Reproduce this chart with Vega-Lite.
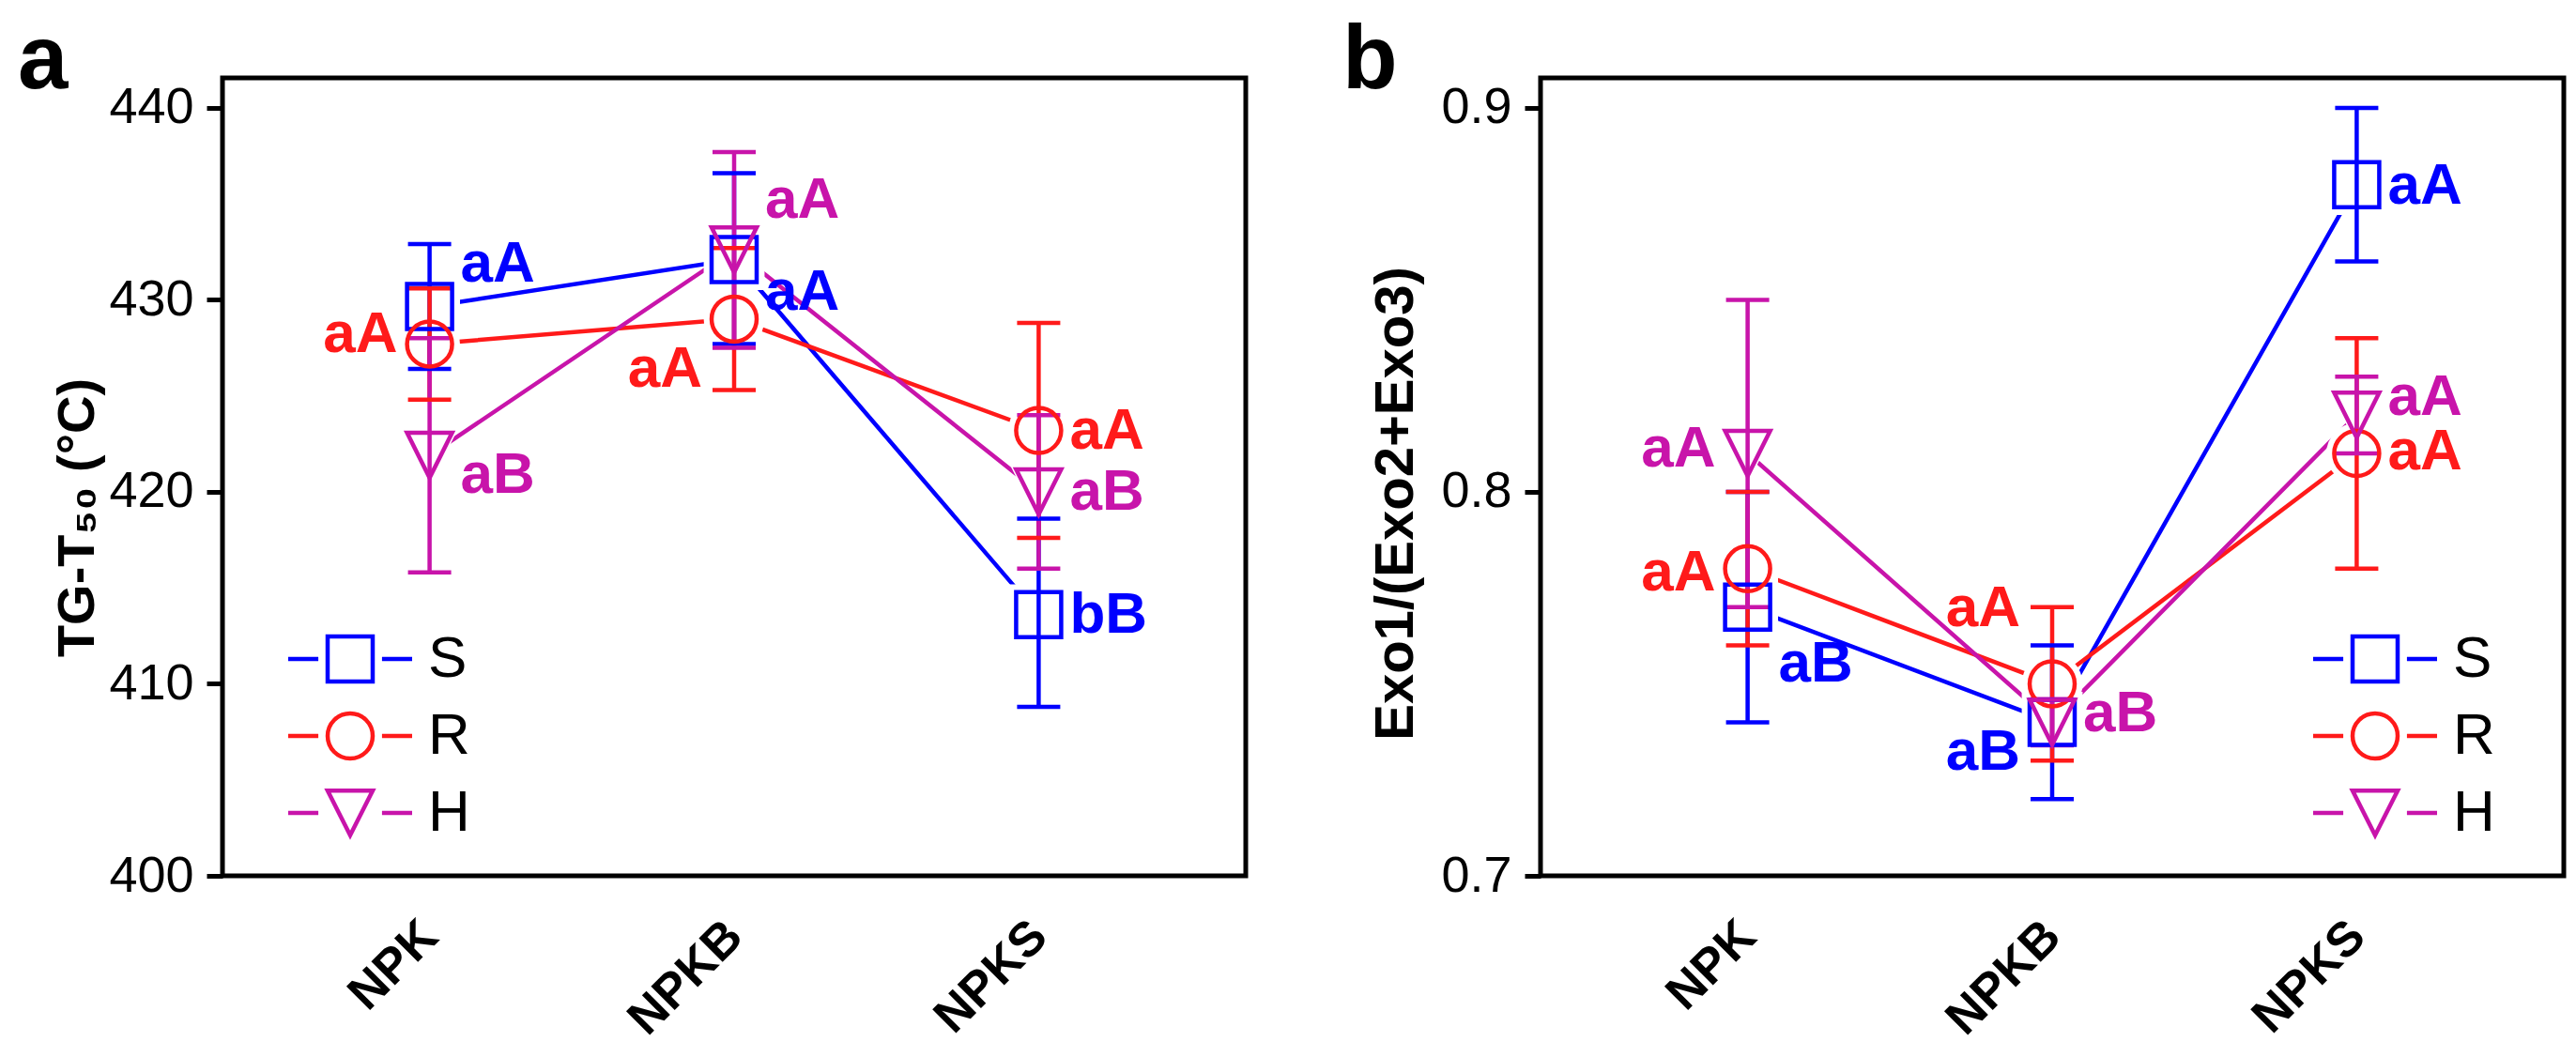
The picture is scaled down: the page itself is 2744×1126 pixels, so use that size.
{
  "$schema": "https://vega.github.io/schema/vega-lite/v6.json",
  "background": "white",
  "padding": {"left": 16, "top": 14, "right": 0, "bottom": 0},
  "spacing": 97,
  "config": {
    "view": {"stroke": "black", "strokeWidth": 5},
    "axis": {"grid": false, "domain": false, "labelFont": "Liberation Sans", "titleFont": "Liberation Sans", "labelColor": "black", "titleColor": "black", "tickColor": "black", "labelOverlap": false, "labelLimit": 400},
    "axisY": {"tickSize": 17, "tickWidth": 5, "labelFontSize": 54, "labelPadding": 14, "titleFontSize": 56, "titleFontWeight": "bold"},
    "axisX": {"ticks": false, "tickSize": 0, "labelAngle": -45, "labelAlign": "right", "labelBaseline": "middle", "labelFontSize": 52, "labelFontWeight": "bold", "labelPadding": 56},
    "legend": {"orient": "none", "title": null, "padding": 0, "labelFont": "Liberation Sans", "labelFontSize": 62, "labelColor": "black", "labelOffset": 52, "symbolSize": 3249, "symbolStrokeWidth": 4.5, "symbolOpacity": 1, "rowPadding": 16, "symbolFillColor": "transparent"}
  },
  "hconcat": [
    {
      "width": 1090,
      "height": 850,
      "title": {"text": "a", "anchor": "start", "frame": "bounds", "dx": -36, "dy": 92, "offset": -15, "baseline": "alphabetic", "fontSize": 96, "fontWeight": "bold", "font": "Liberation Sans", "color": "black"},
      "data": {"values": [
        {"trt": "NPK", "series": "S", "mean": 429.65, "lo": 426.4, "hi": 432.9, "label": "aA", "ly": 431.9, "side": "right"},
        {"trt": "NPKB", "series": "S", "mean": 432.1, "lo": 427.7, "hi": 436.6, "label": "aA", "ly": 430.4, "side": "right"},
        {"trt": "NPKS", "series": "S", "mean": 413.6, "lo": 408.8, "hi": 418.6, "label": "bB", "ly": 413.6, "side": "right"},
        {"trt": "NPK", "series": "R", "mean": 427.7, "lo": 424.8, "hi": 430.6, "label": "aA", "ly": 428.2, "side": "left"},
        {"trt": "NPKB", "series": "R", "mean": 429.0, "lo": 425.3, "hi": 432.7, "label": "aA", "ly": 426.4, "side": "left"},
        {"trt": "NPKS", "series": "R", "mean": 423.2, "lo": 417.6, "hi": 428.8, "label": "aA", "ly": 423.2, "side": "right"},
        {"trt": "NPK", "series": "H", "mean": 421.9, "lo": 415.8, "hi": 428.0, "label": "aB", "ly": 420.9, "side": "right"},
        {"trt": "NPKB", "series": "H", "mean": 432.6, "lo": 427.5, "hi": 437.7, "label": "aA", "ly": 435.2, "side": "right"},
        {"trt": "NPKS", "series": "H", "mean": 420.0, "lo": 416.0, "hi": 424.0, "label": "aB", "ly": 420.0, "side": "right"}
      ]},
      "encoding": {
        "x": {"field": "trt", "type": "nominal", "title": null, "scale": {"type": "point", "domain": ["NPK", "NPKB", "NPKS"], "padding": 0.68}}
      },
      "layer": [
        {
          "mark": {"type": "line", "strokeWidth": 4.5},
          "encoding": {
            "y": {"field": "mean", "type": "quantitative", "title": "TG-T₅₀ (°C)", "scale": {"domain": [400, 441.56], "nice": false, "zero": false}, "axis": {"values": [400, 410, 420, 430, 440], "titlePadding": 4, "titleY": 468}},
            "color": {"field": "series", "type": "nominal", "scale": {"domain": ["S", "R", "H"], "range": ["#0000FF", "#FF1A1A", "#C814AA"]}, "legend": null}
          }
        },
        {
          "mark": {"type": "point", "filled": true, "color": "white", "opacity": 1, "size": 4200},
          "encoding": {
            "y": {"field": "mean", "type": "quantitative", "title": "TG-T₅₀ (°C)", "scale": {"domain": [400, 441.56], "nice": false, "zero": false}},
            "shape": {"field": "series", "type": "nominal", "scale": {"domain": ["S", "R", "H"], "range": ["square", "circle", "M-1,-1H1L0,1Z"]}, "legend": null}
          }
        },
        {
          "mark": {"type": "rule", "strokeWidth": 4.5},
          "encoding": {
            "y": {"field": "lo", "type": "quantitative", "title": "TG-T₅₀ (°C)", "scale": {"domain": [400, 441.56], "nice": false, "zero": false}},
            "y2": {"field": "hi"},
            "color": {"field": "series", "type": "nominal", "scale": {"domain": ["S", "R", "H"], "range": ["#0000FF", "#FF1A1A", "#C814AA"]}, "legend": null}
          }
        },
        {
          "mark": {"type": "tick", "size": 46, "thickness": 4.5, "opacity": 1},
          "encoding": {
            "y": {"field": "lo", "type": "quantitative", "title": "TG-T₅₀ (°C)", "scale": {"domain": [400, 441.56], "nice": false, "zero": false}},
            "color": {"field": "series", "type": "nominal", "scale": {"domain": ["S", "R", "H"], "range": ["#0000FF", "#FF1A1A", "#C814AA"]}, "legend": null}
          }
        },
        {
          "mark": {"type": "tick", "size": 46, "thickness": 4.5, "opacity": 1},
          "encoding": {
            "y": {"field": "hi", "type": "quantitative", "title": "TG-T₅₀ (°C)", "scale": {"domain": [400, 441.56], "nice": false, "zero": false}},
            "color": {"field": "series", "type": "nominal", "scale": {"domain": ["S", "R", "H"], "range": ["#0000FF", "#FF1A1A", "#C814AA"]}, "legend": null}
          }
        },
        {
          "mark": {"type": "point", "filled": false, "strokeWidth": 4.5, "size": 2304, "opacity": 1},
          "encoding": {
            "y": {"field": "mean", "type": "quantitative", "title": "TG-T₅₀ (°C)", "scale": {"domain": [400, 441.56], "nice": false, "zero": false}},
            "shape": {"field": "series", "type": "nominal", "scale": {"domain": ["S", "R", "H"], "range": ["square", "circle", "M-1,-1H1L0,1Z"]}, "legend": null},
            "color": {"field": "series", "type": "nominal", "scale": {"domain": ["S", "R", "H"], "range": ["#0000FF", "#FF1A1A", "#C814AA"]}, "legend": null}
          }
        },
        {
          "transform": [{"filter": "datum.side == 'right'"}],
          "mark": {"type": "text", "align": "left", "baseline": "middle", "dx": 33, "font": "Liberation Sans", "fontWeight": "bold", "fontSize": 62},
          "encoding": {
            "y": {"field": "ly", "type": "quantitative", "title": "TG-T₅₀ (°C)", "scale": {"domain": [400, 441.56], "nice": false, "zero": false}},
            "text": {"field": "label"},
            "color": {"field": "series", "type": "nominal", "scale": {"domain": ["S", "R", "H"], "range": ["#0000FF", "#FF1A1A", "#C814AA"]}, "legend": null}
          }
        },
        {
          "transform": [{"filter": "datum.side == 'left'"}],
          "mark": {"type": "text", "align": "right", "baseline": "middle", "dx": -34, "font": "Liberation Sans", "fontWeight": "bold", "fontSize": 62},
          "encoding": {
            "y": {"field": "ly", "type": "quantitative", "title": "TG-T₅₀ (°C)", "scale": {"domain": [400, 441.56], "nice": false, "zero": false}},
            "text": {"field": "label"},
            "color": {"field": "series", "type": "nominal", "scale": {"domain": ["S", "R", "H"], "range": ["#0000FF", "#FF1A1A", "#C814AA"]}, "legend": null}
          }
        },
        {
          "transform": [{"filter": "datum.series == 'none'"}],
          "mark": {"type": "point", "filled": false, "strokeWidth": 4.5, "opacity": 1},
          "encoding": {
            "color": {"field": "series", "type": "nominal", "scale": {"domain": ["S", "R", "H"], "range": ["#0000FF", "#FF1A1A", "#C814AA"]},
              "legend": {"legendX": 105, "legendY": 588}},
            "shape": {"field": "series", "type": "nominal", "scale": {"domain": ["S", "R", "H"], "range": [
              "M-2.316,0H-1.19M1.19,0H2.316M-0.842,-0.842H0.842V0.842H-0.842Z",
              "M-2.316,0H-1.19M1.19,0H2.316M0.842,0A0.842,0.842,0,1,1,-0.842,0A0.842,0.842,0,1,1,0.842,0Z",
              "M-2.316,0H-1.19M1.19,0H2.316M-0.842,-0.83H0.842L0,0.83Z"]},
              "legend": {"legendX": 105, "legendY": 588}}
          }
        }
      ],
      "resolve": {"scale": {"shape": "independent", "color": "independent"}}
    },
    {
      "width": 1090,
      "height": 850,
      "title": {"text": "b", "anchor": "start", "frame": "bounds", "dx": -29, "dy": 92, "offset": -15, "baseline": "alphabetic", "fontSize": 96, "fontWeight": "bold", "font": "Liberation Sans", "color": "black"},
      "data": {"values": [
        {"trt": "NPK", "series": "S", "mean": 0.77, "lo": 0.74, "hi": 0.80, "label": "aB", "ly": 0.7553, "side": "right"},
        {"trt": "NPKB", "series": "S", "mean": 0.74, "lo": 0.72, "hi": 0.76, "label": "aB", "ly": 0.7323, "side": "left"},
        {"trt": "NPKS", "series": "S", "mean": 0.88, "lo": 0.86, "hi": 0.90, "label": "aA", "ly": 0.8796, "side": "right"},
        {"trt": "NPK", "series": "R", "mean": 0.78, "lo": 0.76, "hi": 0.80, "label": "aA", "ly": 0.779, "side": "left"},
        {"trt": "NPKB", "series": "R", "mean": 0.75, "lo": 0.73, "hi": 0.77, "label": "aA", "ly": 0.7697, "side": "left"},
        {"trt": "NPKS", "series": "R", "mean": 0.81, "lo": 0.78, "hi": 0.84, "label": "aA", "ly": 0.8104, "side": "right"},
        {"trt": "NPK", "series": "H", "mean": 0.81, "lo": 0.77, "hi": 0.85, "label": "aA", "ly": 0.8113, "side": "left"},
        {"trt": "NPKB", "series": "H", "mean": 0.74, "lo": 0.734, "hi": 0.746, "label": "aB", "ly": 0.7422, "side": "right"},
        {"trt": "NPKS", "series": "H", "mean": 0.82, "lo": 0.81, "hi": 0.83, "label": "aA", "ly": 0.8248, "side": "right"}
      ]},
      "encoding": {
        "x": {"field": "trt", "type": "nominal", "title": null, "scale": {"type": "point", "domain": ["NPK", "NPKB", "NPKS"], "padding": 0.68}}
      },
      "layer": [
        {
          "mark": {"type": "line", "strokeWidth": 4.5},
          "encoding": {
            "y": {"field": "mean", "type": "quantitative", "title": "Exo1/(Exo2+Exo3)", "scale": {"domain": [0.7, 0.9078], "nice": false, "zero": false}, "axis": {"values": [0.7, 0.8, 0.9], "format": ".1f", "titlePadding": 18, "titleFontSize": 58, "titleY": 453}},
            "color": {"field": "series", "type": "nominal", "scale": {"domain": ["S", "R", "H"], "range": ["#0000FF", "#FF1A1A", "#C814AA"]}, "legend": null}
          }
        },
        {
          "mark": {"type": "point", "filled": true, "color": "white", "opacity": 1, "size": 4200},
          "encoding": {
            "y": {"field": "mean", "type": "quantitative", "title": "Exo1/(Exo2+Exo3)", "scale": {"domain": [0.7, 0.9078], "nice": false, "zero": false}},
            "shape": {"field": "series", "type": "nominal", "scale": {"domain": ["S", "R", "H"], "range": ["square", "circle", "M-1,-1H1L0,1Z"]}, "legend": null}
          }
        },
        {
          "mark": {"type": "rule", "strokeWidth": 4.5},
          "encoding": {
            "y": {"field": "lo", "type": "quantitative", "title": "Exo1/(Exo2+Exo3)", "scale": {"domain": [0.7, 0.9078], "nice": false, "zero": false}},
            "y2": {"field": "hi"},
            "color": {"field": "series", "type": "nominal", "scale": {"domain": ["S", "R", "H"], "range": ["#0000FF", "#FF1A1A", "#C814AA"]}, "legend": null}
          }
        },
        {
          "mark": {"type": "tick", "size": 46, "thickness": 4.5, "opacity": 1},
          "encoding": {
            "y": {"field": "lo", "type": "quantitative", "title": "Exo1/(Exo2+Exo3)", "scale": {"domain": [0.7, 0.9078], "nice": false, "zero": false}},
            "color": {"field": "series", "type": "nominal", "scale": {"domain": ["S", "R", "H"], "range": ["#0000FF", "#FF1A1A", "#C814AA"]}, "legend": null}
          }
        },
        {
          "mark": {"type": "tick", "size": 46, "thickness": 4.5, "opacity": 1},
          "encoding": {
            "y": {"field": "hi", "type": "quantitative", "title": "Exo1/(Exo2+Exo3)", "scale": {"domain": [0.7, 0.9078], "nice": false, "zero": false}},
            "color": {"field": "series", "type": "nominal", "scale": {"domain": ["S", "R", "H"], "range": ["#0000FF", "#FF1A1A", "#C814AA"]}, "legend": null}
          }
        },
        {
          "mark": {"type": "point", "filled": false, "strokeWidth": 4.5, "size": 2304, "opacity": 1},
          "encoding": {
            "y": {"field": "mean", "type": "quantitative", "title": "Exo1/(Exo2+Exo3)", "scale": {"domain": [0.7, 0.9078], "nice": false, "zero": false}},
            "shape": {"field": "series", "type": "nominal", "scale": {"domain": ["S", "R", "H"], "range": ["square", "circle", "M-1,-1H1L0,1Z"]}, "legend": null},
            "color": {"field": "series", "type": "nominal", "scale": {"domain": ["S", "R", "H"], "range": ["#0000FF", "#FF1A1A", "#C814AA"]}, "legend": null}
          }
        },
        {
          "transform": [{"filter": "datum.side == 'right'"}],
          "mark": {"type": "text", "align": "left", "baseline": "middle", "dx": 33, "font": "Liberation Sans", "fontWeight": "bold", "fontSize": 62},
          "encoding": {
            "y": {"field": "ly", "type": "quantitative", "title": "Exo1/(Exo2+Exo3)", "scale": {"domain": [0.7, 0.9078], "nice": false, "zero": false}},
            "text": {"field": "label"},
            "color": {"field": "series", "type": "nominal", "scale": {"domain": ["S", "R", "H"], "range": ["#0000FF", "#FF1A1A", "#C814AA"]}, "legend": null}
          }
        },
        {
          "transform": [{"filter": "datum.side == 'left'"}],
          "mark": {"type": "text", "align": "right", "baseline": "middle", "dx": -34, "font": "Liberation Sans", "fontWeight": "bold", "fontSize": 62},
          "encoding": {
            "y": {"field": "ly", "type": "quantitative", "title": "Exo1/(Exo2+Exo3)", "scale": {"domain": [0.7, 0.9078], "nice": false, "zero": false}},
            "text": {"field": "label"},
            "color": {"field": "series", "type": "nominal", "scale": {"domain": ["S", "R", "H"], "range": ["#0000FF", "#FF1A1A", "#C814AA"]}, "legend": null}
          }
        },
        {
          "transform": [{"filter": "datum.series == 'none'"}],
          "mark": {"type": "point", "filled": false, "strokeWidth": 4.5, "opacity": 1},
          "encoding": {
            "color": {"field": "series", "type": "nominal", "scale": {"domain": ["S", "R", "H"], "range": ["#0000FF", "#FF1A1A", "#C814AA"]},
              "legend": {"legendX": 858, "legendY": 588}},
            "shape": {"field": "series", "type": "nominal", "scale": {"domain": ["S", "R", "H"], "range": [
              "M-2.316,0H-1.19M1.19,0H2.316M-0.842,-0.842H0.842V0.842H-0.842Z",
              "M-2.316,0H-1.19M1.19,0H2.316M0.842,0A0.842,0.842,0,1,1,-0.842,0A0.842,0.842,0,1,1,0.842,0Z",
              "M-2.316,0H-1.19M1.19,0H2.316M-0.842,-0.83H0.842L0,0.83Z"]},
              "legend": {"legendX": 858, "legendY": 588}}
          }
        }
      ],
      "resolve": {"scale": {"shape": "independent", "color": "independent"}}
    }
  ]
}
